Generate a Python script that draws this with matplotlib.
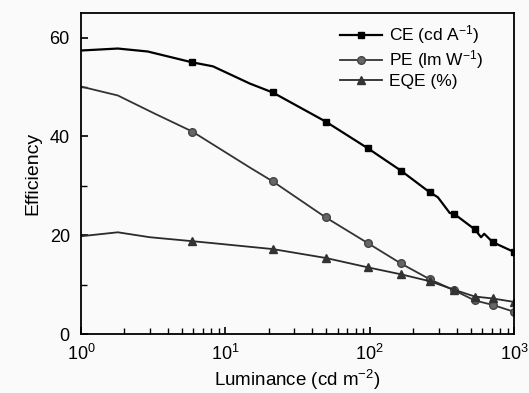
import matplotlib
matplotlib.use("Agg")
import matplotlib.pyplot as plt
from matplotlib.ticker import LogLocator, MultipleLocator, NullFormatter

plt.rcParams['font.family'] = ['Liberation Sans', 'DejaVu Sans']
plt.rcParams['mathtext.fontset'] = 'custom'
plt.rcParams['mathtext.rm'] = 'Liberation Sans'
plt.rcParams['mathtext.default'] = 'regular'

# data
ce_x = [1.0, 1.8, 2.9, 5.9, 8.2, 14.8, 21.3, 49.6, 97, 164, 260, 296, 358, 381, 533, 590, 620, 710, 1000]
ce_y = [57.4, 57.8, 57.2, 55.0, 54.2, 50.7, 48.9, 43.0, 37.6, 33.1, 28.7, 27.7, 24.5, 24.4, 21.2, 19.6, 20.3, 18.6, 16.6]
ce_marks = [3, 6, 7, 8, 9, 10, 13, 14, 17, 18]

pe_x = [1.0, 1.8, 3.15, 5.9, 14.8, 21.3, 49.6, 97, 164, 260, 381, 533, 710, 1000]
pe_y = [50.1, 48.3, 44.8, 41.0, 33.7, 30.9, 23.6, 18.4, 14.3, 11.1, 8.9, 6.8, 5.9, 4.5]
pe_marks = [3, 5, 6, 7, 8, 9, 10, 11, 12, 13]

eqe_x = [1.0, 1.8, 3.0, 5.9, 8.2, 21.3, 49.6, 97, 164, 260, 381, 533, 710, 1000]
eqe_y = [19.8, 20.6, 19.6, 18.8, 18.4, 17.2, 15.4, 13.5, 12.1, 10.7, 9.0, 7.6, 7.2, 6.5]
eqe_marks = [3, 5, 6, 7, 8, 9, 10, 11, 12, 13]

fig = plt.figure(figsize=(5.29, 3.93), dpi=100, facecolor='#fafafa')
ax = fig.add_axes([0.153, 0.150, 0.819, 0.817])
ax.set_facecolor('#fafafa')

ax.plot(ce_x, ce_y, color='black', lw=1.6, marker='s', ms=5,
        markevery=ce_marks, label='CE (cd A$^{-1}$)')
ax.plot(pe_x, pe_y, color='#333333', lw=1.3, marker='o', ms=5.5,
        mfc='#666666', mec='#444444', markevery=pe_marks, label='PE (lm W$^{-1}$)')
ax.plot(eqe_x, eqe_y, color='#2a2a2a', lw=1.3, marker='^', ms=5.5,
        mfc='#333333', mec='#333333', markevery=eqe_marks, label='EQE (%)')

ax.set_xscale('log')
ax.set_xlim(1, 1000)
ax.set_ylim(0, 65)
ax.yaxis.set_major_locator(MultipleLocator(20))
ax.yaxis.set_minor_locator(MultipleLocator(10))
ax.xaxis.set_minor_locator(LogLocator(base=10, subs=range(2, 10)))
ax.xaxis.set_minor_formatter(NullFormatter())

ax.tick_params(which='both', direction='in', top=False, right=False, labelsize=13)
ax.tick_params(which='major', length=5, width=1.2)
ax.tick_params(which='minor', length=4, width=1.0)
ax.tick_params(axis='x', pad=7)
ax.tick_params(axis='y', pad=8)
for s in ax.spines.values():
    s.set_linewidth(1.3)

ax.set_xlabel('Luminance (cd m$^{-2}$)', fontsize=13.5, labelpad=3)
ax.set_ylabel('Efficiency', fontsize=14, labelpad=6)

ax.legend(loc='upper right', frameon=False, fontsize=12.5, handlelength=2.4,
          handletextpad=0.4, labelspacing=0.12, borderaxespad=0.3,
          bbox_to_anchor=(0.957, 1.005))

fig.savefig('out.png', dpi=100, facecolor=fig.get_facecolor())
